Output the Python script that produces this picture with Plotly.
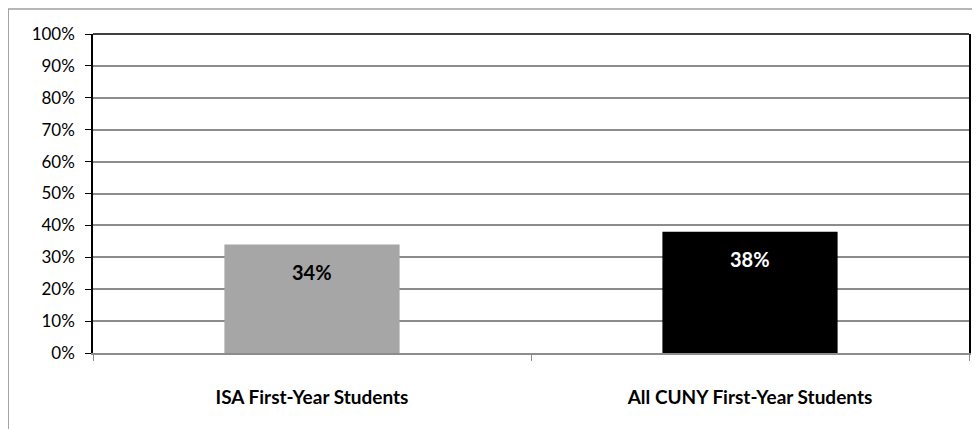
import plotly.graph_objects as go

# data
categories = ["ISA First-Year Students", "All CUNY First-Year Students"]
values = [0.34, 0.38]
bar_colors = ["#A6A6A6", "#000000"]
label_colors = ["#000000", "#FFFFFF"]
tick_vals = [i / 10 for i in range(11)]
tick_text = [f"{i * 10}%" for i in range(11)]

FONT = "Lato, Calibri, 'Open Sans', sans-serif"

fig = go.Figure()
fig.add_trace(go.Bar(
    x=categories, y=values,
    marker=dict(color=bar_colors, line=dict(width=0)),
    hoverinfo="skip",
))

# value labels near the top of each bar
for cat, val, col in zip(categories, values, label_colors):
    fig.add_annotation(
        x=cat, y=val, text=f"<b>{round(val * 100)}%</b>",
        showarrow=False, yanchor="top", yshift=-13,
        font=dict(family=FONT, size=20, color=col),
    )

# page body has an 8px margin, so size/margins are trimmed to keep the
# plot area where it sits in the original
fig.update_layout(
    width=972, height=421,
    margin=dict(l=85, r=9, t=26, b=76),
    paper_bgcolor="white", plot_bgcolor="white",
    bargap=0.6, showlegend=False,
    font=dict(family=FONT, size=17, color="black"),
    shapes=[
        # outer chart border (grey, runs off right/bottom)
        dict(type="rect", xref="paper", yref="paper",
             x0=-0.0968, x1=1.2, y0=-0.6, y1=1.078,
             line=dict(color="#A0A0A0", width=1.5), layer="below"),
        # black top edge of plot area
        dict(type="line", xref="paper", yref="paper",
             x0=0, x1=1, y0=1, y1=1,
             line=dict(color="black", width=1.5)),
    ],
)

fig.update_yaxes(
    range=[0, 1], tickvals=tick_vals, ticktext=tick_text,
    showgrid=True, gridcolor="#8C8C8C", gridwidth=1.5,
    showline=True, linecolor="black", linewidth=1.5, mirror=True,
    ticks="outside", ticklen=6, tickcolor="black",
    tickfont=dict(size=17), ticklabelstandoff=7, zeroline=False,
)
fig.update_xaxes(
    showline=True, linecolor="#8C8C8C", linewidth=2,
    ticks="outside", tickson="boundaries", ticklen=6, tickcolor="#8C8C8C",
    tickfont=dict(size=19), ticklabelstandoff=26,
    tickprefix="<b>", ticksuffix="</b>",
)

fig.write_html("out.html")
